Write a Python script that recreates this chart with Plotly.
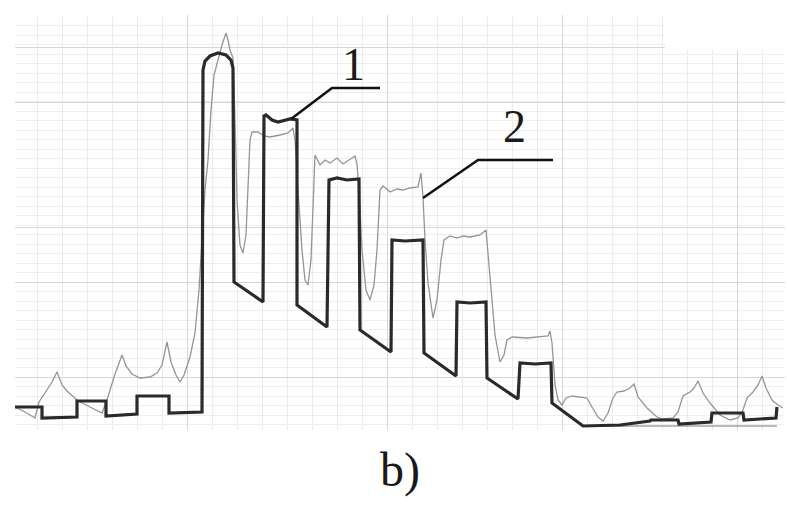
import plotly.graph_objects as go

# Curve 1 (thick dark) - x in chart units, y in signal units
s1_x = [15, 42, 42, 77, 77, 106, 106, 137, 137, 169, 169, 202,
        203, 205, 210, 218, 226, 231, 233, 234, 263,
        264, 266, 272, 278, 285, 290, 297, 297, 327,
        329, 337, 347, 359, 360, 391,
        392, 405, 423, 424, 456,
        457, 470, 486, 487, 518,
        520, 535, 551, 552, 583,
        620, 635, 650, 651, 678, 679, 700, 711, 712, 743, 744, 776, 777]
s1_y = [18, 18, 7, 8, 24, 24, 9, 11, 29, 29, 12, 13,
        355, 364, 369, 372, 370, 365, 357, 143, 123,
        309, 310, 305, 303, 305, 306, 305, 120, 98,
        245, 247, 245, 246, 95, 73,
        185, 184, 185, 72, 49,
        123, 122, 123, 47, 26,
        62, 61, 62, 22, -1,
        0, 2, 4, 5, 5, 1, 2, 3, 12, 12, 5, 7, 18]

# Curve 2 (thin grey)
s2_x = [15, 25, 35, 39, 45, 52, 57, 62, 67, 77, 90, 102, 107, 114, 122, 126, 132, 140, 150, 157,
        162, 167, 171, 176, 180, 184, 190, 195, 199, 202, 205, 208, 211, 214, 218, 222, 226, 228,
        230, 233, 235, 237, 240, 243, 246, 248, 250, 252, 258, 264, 270, 280, 288, 293, 295, 298,
        302, 305, 308, 311, 313, 315, 320, 325, 330, 337, 343, 350, 355, 357, 359, 362, 366, 370,
        374, 377, 380, 383, 390, 397, 403, 410, 418, 421, 423, 425, 428, 433, 437, 441, 444, 450,
        457, 463, 470, 480, 486, 487, 490, 495, 500, 504, 507, 512, 527, 540, 548, 550, 552, 555,
        558, 562, 566, 572, 587, 592, 598, 603, 608, 613, 617, 624, 630, 634, 638, 647, 657, 663,
        673, 678, 683, 690, 694, 698, 703, 710, 720, 730, 738, 743, 747, 753, 758, 762, 766, 772,
        778, 783]
s2_y = [18, 13, 7, 23, 32, 43, 53, 40, 34, 25, 18, 12, 25, 48, 70, 59, 51, 47, 48, 52,
        60, 83, 63, 50, 43, 50, 68, 92, 135, 192, 235, 265, 315, 350, 365, 380, 392, 385,
        375, 367, 305, 225, 180, 172, 190, 230, 285, 293, 293, 289, 288, 290, 292, 297, 285, 235,
        175, 145, 140, 165, 215, 270, 260, 265, 262, 267, 261, 266, 269, 261, 235, 175, 135, 125,
        140, 175, 235, 239, 233, 236, 235, 237, 238, 252, 228, 185, 142, 107, 125, 165, 185, 189,
        187, 189, 188, 190, 195, 183, 145, 90, 63, 70, 85, 88, 87, 88, 89, 94, 82, 40,
        25, 20, 27, 29, 27, 18, 8, 4, 12, 27, 33, 34, 37, 41, 28, 17, 8, 6,
        7, 13, 29, 33, 37, 44, 32, 22, 10, 5, 7, 15, 27, 33, 40, 49, 37, 25,
        20, 17]

# Thin base line at the right end
base_x = [583, 777]
base_y = [-1, -1]

# Leader lines for the curve labels
lead1_x = [291, 332, 380]
lead1_y = [306, 337, 337]
lead2_x = [423, 478, 553]
lead2_y = [227, 265, 265]
labels = ["1", "2"]
label_x = [353, 514]
label_y = [361, 299]

x_major = [187, 387, 562, 737]
y_major = [48, 143, 198, 323, 378]

fig = go.Figure()
fig.add_trace(go.Scatter(x=s2_x, y=s2_y, mode="lines",
                         line=dict(color="#959595", width=1.3), showlegend=False))
fig.add_trace(go.Scatter(x=base_x, y=base_y, mode="lines",
                         line=dict(color="#777777", width=1.2), showlegend=False))
fig.add_trace(go.Scatter(x=s1_x, y=s1_y, mode="lines",
                         line=dict(color="#2a2a2a", width=3.2), showlegend=False))
for lx, ly in [(lead1_x, lead1_y), (lead2_x, lead2_y)]:
    fig.add_trace(go.Scatter(x=lx, y=ly, mode="lines",
                             line=dict(color="#111111", width=2.5), showlegend=False))

for t, x, y in zip(labels, label_x, label_y):
    fig.add_annotation(x=x, y=y, text=t, showarrow=False,
                       font=dict(family="Liberation Serif", size=46, color="#1a1a1a"))

fig.add_annotation(x=0.5, y=-0.097, xref="paper", yref="paper", text="b)",
                   showarrow=False, xanchor="center", yanchor="middle",
                   font=dict(family="Liberation Serif", size=48, color="#1a1a1a"))

# blank corner of the scanned grid paper
fig.add_shape(type="rect", x0=665, x1=790, y0=375, y1=420, xref="x", yref="y",
              fillcolor="white", line=dict(width=0), layer="above")

fig.update_layout(
    width=787, height=505,
    margin=dict(l=15, r=2, t=15, b=75),
    paper_bgcolor="white", plot_bgcolor="white",
    xaxis=dict(range=[15, 785], tickvals=x_major, showticklabels=False, ticks="",
               showgrid=True, gridcolor="#d6d6d6", gridwidth=1, zeroline=False,
               showline=False,
               minor=dict(tick0=12, dtick=25, showgrid=True, gridcolor="#ebebeb",
                          gridwidth=1, ticks="")),
    yaxis=dict(range=[-5, 410], tickvals=y_major, showticklabels=False, ticks="",
               showgrid=True, gridcolor="#d6d6d6", gridwidth=1, zeroline=False,
               showline=False,
               minor=dict(tick0=48, dtick=9.5, showgrid=True, gridcolor="#eeeeee",
                          gridwidth=1, ticks="")),
)

fig.write_html("out.html")
